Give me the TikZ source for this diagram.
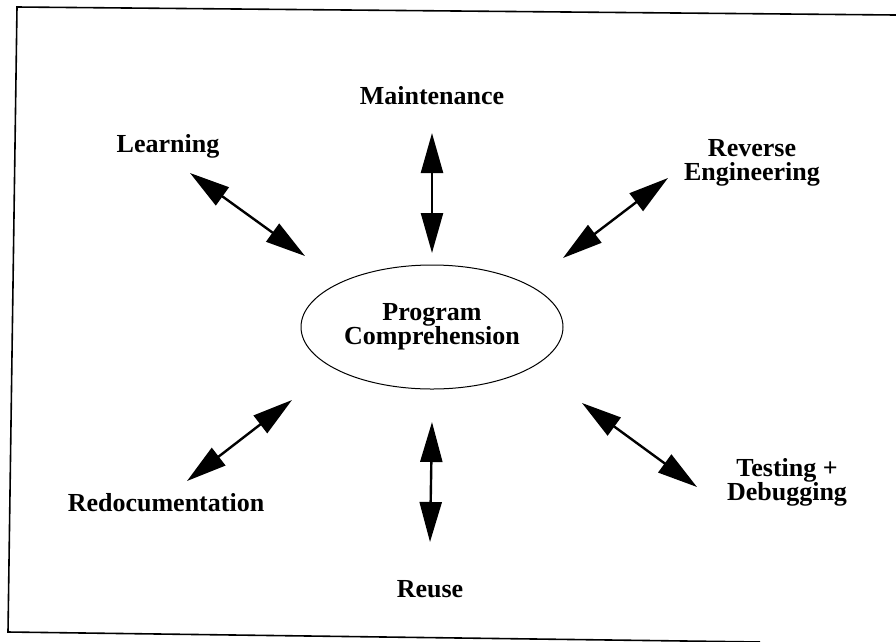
\documentclass[tikz,border=0pt]{standalone}
\usepackage{fontspec}
\setmainfont{Liberation Serif}
\usetikzlibrary{arrows.meta,shapes.geometric}
\begin{document}
\begin{tikzpicture}[x=1pt,y=-1pt,
  label/.style={font=\fontsize{26}{24}\selectfont\bfseries, align=center, inner sep=0pt},
  hub/.style={draw, line width=1pt, ellipse, minimum width=262pt, minimum height=124pt, inner sep=0pt},
  dbl/.style={line width=2.4pt, {Triangle[length=40pt,width=22pt]}-{Triangle[length=40pt,width=22pt]}},
  frameline/.style={line width=1.6pt}]
  \useasboundingbox (0,0) rectangle (896,641);

  % page frame (slightly skewed, runs off the right and bottom edges)
  \coordinate (f1) at (896,15);
  \coordinate (f2) at (17,7);
  \coordinate (f3) at (8,632);
  \coordinate (f4) at (760,642);
  \draw[frameline] (f1) -- (f2) -- (f3) -- (f4);

  % central concept
  \node[hub, label] (pc) at (432,327) {Program\\Comprehension};

  % surrounding activities
  \node[label] (mnt) at (432,96) {Maintenance};
  \node[label] (lrn) at (168,146) {Learning};
  \node[label] (rev) at (752,163) {Reverse\\Engineering};
  \node[label] (red) at (166,503) {Redocumentation};
  \node[label] (tst) at (787,482) {Testing +\\Debugging};
  \node[label] (reu) at (430,589) {Reuse};

  % arrow end points
  \coordinate (m1) at (432,133);
  \coordinate (m2) at (432,253);
  \coordinate (l1) at (190,173);
  \coordinate (l2) at (305,256);
  \coordinate (r1) at (668,178);
  \coordinate (r2) at (563,258);
  \coordinate (d1) at (292,400);
  \coordinate (d2) at (187,481);
  \coordinate (t1) at (582,403);
  \coordinate (t2) at (697,487);
  \coordinate (u1) at (432,422);
  \coordinate (u2) at (430,542);

  \draw[dbl] (m1) -- (m2);
  \draw[dbl] (l1) -- (l2);
  \draw[dbl] (r1) -- (r2);
  \draw[dbl] (d1) -- (d2);
  \draw[dbl] (t1) -- (t2);
  \draw[dbl] (u1) -- (u2);
\end{tikzpicture}
\end{document}
